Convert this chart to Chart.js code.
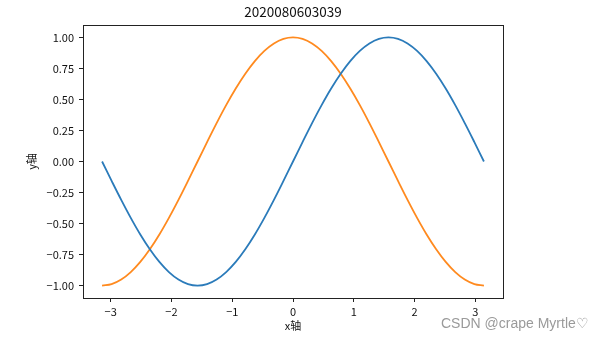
<!DOCTYPE html>
<html>
<head>
<meta charset="utf-8">
<script src="https://cdn.jsdelivr.net/npm/chart.js@4"></script>
<style>
  html, body { margin: 0; padding: 0; background: #fff; }
  #wrap { width: 606px; height: 341px; }
</style>
</head>
<body>
<div id="wrap"><canvas id="sinCosChart" width="606" height="341"></canvas></div>
<script>
// x from -pi to pi
const xValues = [-3.142, -2.985, -2.827, -2.670, -2.513, -2.356, -2.199, -2.042, -1.885, -1.728, -1.571,
    -1.414, -1.257, -1.100, -0.942, -0.785, -0.628, -0.471, -0.314, -0.157, 0,
    0.157, 0.314, 0.471, 0.628, 0.785, 0.942, 1.100, 1.257, 1.414, 1.571,
    1.728, 1.885, 2.042, 2.199, 2.356, 2.513, 2.670, 2.827, 2.985, 3.142];
const blueValues = [0, -0.156, -0.309, -0.454, -0.588, -0.707, -0.809, -0.891, -0.951, -0.988, -1,
    -0.988, -0.951, -0.891, -0.809, -0.707, -0.588, -0.454, -0.309, -0.156, 0,
    0.156, 0.309, 0.454, 0.588, 0.707, 0.809, 0.891, 0.951, 0.988, 1,
    0.988, 0.951, 0.891, 0.809, 0.707, 0.588, 0.454, 0.309, 0.156, 0];
const orangeValues = [-1, -0.988, -0.951, -0.891, -0.809, -0.707, -0.588, -0.454, -0.309, -0.156, 0,
    0.156, 0.309, 0.454, 0.588, 0.707, 0.809, 0.891, 0.951, 0.988, 1,
    0.988, 0.951, 0.891, 0.809, 0.707, 0.588, 0.454, 0.309, 0.156, 0,
    -0.156, -0.309, -0.454, -0.588, -0.707, -0.809, -0.891, -0.951, -0.988, -1];
const xTicks = [-3, -2, -1, 0, 1, 2, 3];
const yTicks = [-1, -0.75, -0.5, -0.25, 0, 0.25, 0.5, 0.75, 1];

const cjk = "'Noto Sans CJK SC', 'DejaVu Sans', sans-serif";

function toPoints(ys) {
    const pts = [];
    for (var i = 0; i < xValues.length; i++) {
        pts.push({x: xValues[i], y: ys[i]});
    }
    return pts;
}
function minus(s) {
    return String(s).replace('-', '\u2212');
}

// frame around the plot + watermark
const framePlugin = {
    id: 'frame',
    afterDraw(chart) {
        const ctx = chart.ctx;
        const a = chart.chartArea;
        ctx.save();
        ctx.strokeStyle = '#222';
        ctx.lineWidth = 1;
        ctx.strokeRect(Math.round(a.left) + 0.5, Math.round(a.top) + 0.5,
            Math.round(a.right - a.left), Math.round(a.bottom - a.top));
        ctx.fillStyle = '#9a9a9a';
        ctx.font = "14px 'Liberation Sans', Arial, sans-serif";
        ctx.textBaseline = 'middle';
        ctx.textAlign = 'left';
        ctx.fillText('CSDN @crape Myrtle\u2661', 441, 324);
        ctx.restore();
    }
};

new Chart(document.getElementById('sinCosChart').getContext('2d'), {
    type: 'scatter',
    data: {
        datasets: [{
            label: 'sin',
            data: toPoints(blueValues),
            showLine: true,
            borderColor: '#2b7bba',
            backgroundColor: '#2b7bba',
            borderWidth: 1.8,
            pointRadius: 0,
            tension: 0.4
        },
        {
            label: 'cos',
            data: toPoints(orangeValues),
            showLine: true,
            borderColor: '#ff8a1f',
            backgroundColor: '#ff8a1f',
            borderWidth: 1.8,
            pointRadius: 0,
            tension: 0.4
        }]
    },
    options: {
        responsive: false,
        animation: false,
        events: [],
        layout: { padding: { left: 0, right: 20, top: 0, bottom: 0 } },
        plugins: {
            legend: { display: false },
            tooltip: { enabled: false },
            title: {
                display: true,
                text: '2020080603039',
                color: '#111',
                font: { family: cjk, size: 13.5, weight: 'normal', lineHeight: 1.2 },
                padding: { top: 4, bottom: 4.8 }
            }
        },
        scales: {
            x: {
                type: 'linear',
                min: -3.456,
                max: 3.456,
                afterBuildTicks: function (scale) {
                    scale.ticks = xTicks.map(v => ({value: v}));
                },
                afterFit: function (scale) { scale.height = 43; },
                grid: { drawOnChartArea: false, drawTicks: true, tickLength: 4, color: '#222' },
                border: { display: false },
                ticks: {
                    color: '#111',
                    padding: 3,
                    maxRotation: 0,
                    font: { family: cjk, size: 11 },
                    callback: v => minus(v)
                },
                title: {
                    display: true,
                    text: 'x轴',
                    color: '#111',
                    font: { family: cjk, size: 11 },
                    padding: { top: 0, bottom: 9 }
                }
            },
            y: {
                type: 'linear',
                min: -1.1,
                max: 1.1,
                afterBuildTicks: function (scale) {
                    scale.ticks = yTicks.map(v => ({value: v}));
                },
                afterFit: function (scale) { scale.width = 83; },
                grid: { drawOnChartArea: false, drawTicks: true, tickLength: 4, color: '#222' },
                border: { display: false },
                ticks: {
                    color: '#111',
                    padding: 5,
                    font: { family: cjk, size: 11 },
                    callback: v => minus(Number(v).toFixed(2))
                },
                title: {
                    display: true,
                    text: 'y轴',
                    color: '#111',
                    font: { family: cjk, size: 11 },
                    padding: { top: 25, bottom: 0 }
                }
            },
            // empty right-hand margin
            yRight: {
                type: 'linear',
                position: 'right',
                min: -1.1,
                max: 1.1,
                afterFit: function (scale) { scale.width = 83; },
                grid: { display: false },
                border: { display: false },
                ticks: { display: false },
                title: { display: false }
            }
        }
    },
    plugins: [framePlugin]
});
</script>
</body>
</html>
